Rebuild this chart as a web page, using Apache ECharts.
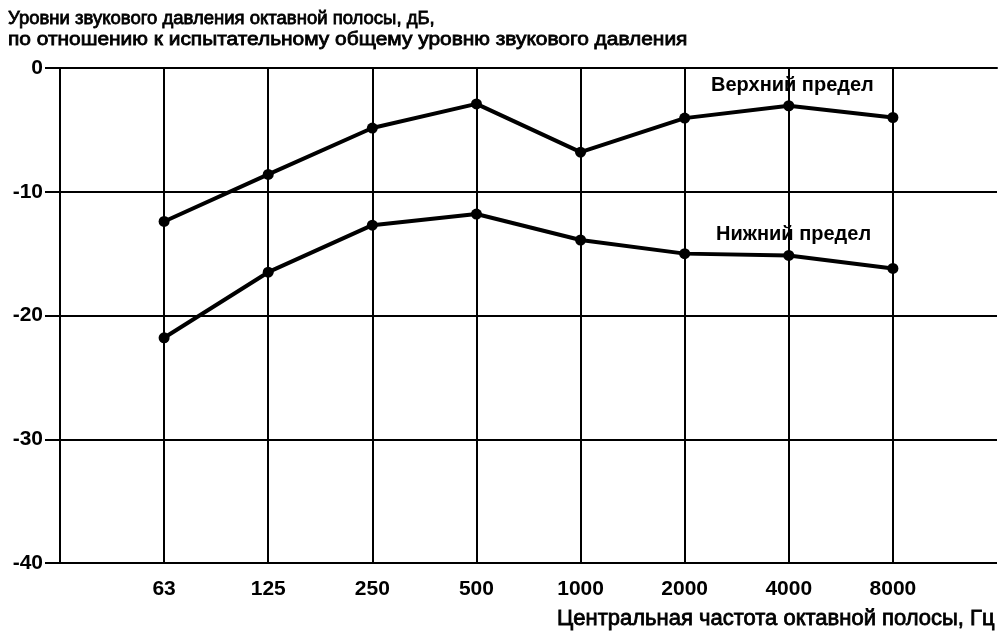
<!DOCTYPE html>
<html>
<head>
<meta charset="utf-8">
<script src="https://cdn.jsdelivr.net/npm/echarts@6/dist/echarts.min.js"></script>
<style>html,body{margin:0;padding:0;background:#fff}#c{width:1000px;height:633px}</style>
</head>
<body>
<div id="c"></div>
<script>
const categories = ['63', '125', '250', '500', '1000', '2000', '4000', '8000'];
const upperLimit = [-12.4, -8.6, -4.85, -2.9, -6.8, -4.05, -3.05, -4.0];
const lowerLimit = [-21.8, -16.5, -12.7, -11.8, -13.9, -15.0, -15.15, -16.2];
const yTicks = [-40, -30, -20, -10, 0];
const titleLines = ['Уровни звукового давления октавной полосы, дБ,', 'по отношению к испытательному общему уровню звукового давления'];
const xName = 'Центральная частота октавной полосы, Гц';
const upperName = 'Верхний предел';
const lowerName = 'Нижний предел';

const FONT = '"Liberation Sans", Arial, sans-serif';
const catPos = categories.map((c, i) => i + 1);
const toPts = arr => arr.map((v, i) => [catPos[i], v]);

const chart = echarts.init(document.getElementById('c'), null, {renderer: 'canvas'});
chart.setOption({
  animation: false,
  backgroundColor: '#fff',
  grid: {left: 60, right: 3, top: 68, bottom: 70},
  xAxis: {
    type: 'value', min: 0, max: categories.length + 1, interval: 1,
    axisLine: {show: true, lineStyle: {color: '#000', width: 2}},
    axisTick: {show: true, length: 13, customValues: catPos, lineStyle: {color: '#000', width: 2}},
    axisLabel: {customValues: catPos, margin: 16, color: '#000', fontSize: 21, fontWeight: 'bold', fontFamily: FONT,
      formatter: v => categories[Math.round(v) - 1] || ''},
    splitLine: {show: true, lineStyle: {color: '#000', width: 2}}
  },
  yAxis: {
    type: 'value', min: yTicks[0], max: yTicks[yTicks.length - 1], interval: 10,
    axisLine: {show: true, lineStyle: {color: '#000', width: 2}},
    axisTick: {show: true, length: 15, lineStyle: {color: '#000', width: 2}},
    axisLabel: {margin: 17, color: '#000', fontSize: 21, fontWeight: 'bold', fontFamily: FONT},
    splitLine: {show: true, lineStyle: {color: '#000', width: 2}}
  },
  series: [
    {type: 'line', name: upperName, data: toPts(upperLimit), symbol: 'circle', symbolSize: 11,
      lineStyle: {color: '#000', width: 4}, itemStyle: {color: '#000'}},
    {type: 'line', name: lowerName, data: toPts(lowerLimit), symbol: 'circle', symbolSize: 11,
      lineStyle: {color: '#000', width: 4}, itemStyle: {color: '#000'}}
  ],
  graphic: [
    {type: 'text', x: 8, y: 9, style: {text: titleLines[0], font: '18.5px ' + FONT, fill: '#000', stroke: '#000', lineWidth: 0.8}},
    {type: 'text', x: 8, y: 30, scaleX: 1.13, style: {text: titleLines[1], font: '18.5px ' + FONT, fill: '#000', stroke: '#000', lineWidth: 0.8}},
    {type: 'text', right: 5, top: 608, style: {text: xName, font: '22px ' + FONT, fill: '#000', stroke: '#000', lineWidth: 0.8}},
    {type: 'text', x: 711, y: 75, style: {text: upperName, font: 'bold 20px ' + FONT, fill: '#000'}},
    {type: 'text', x: 716, y: 224, style: {text: lowerName, font: 'bold 20px ' + FONT, fill: '#000'}}
  ]
});
</script>
</body>
</html>
